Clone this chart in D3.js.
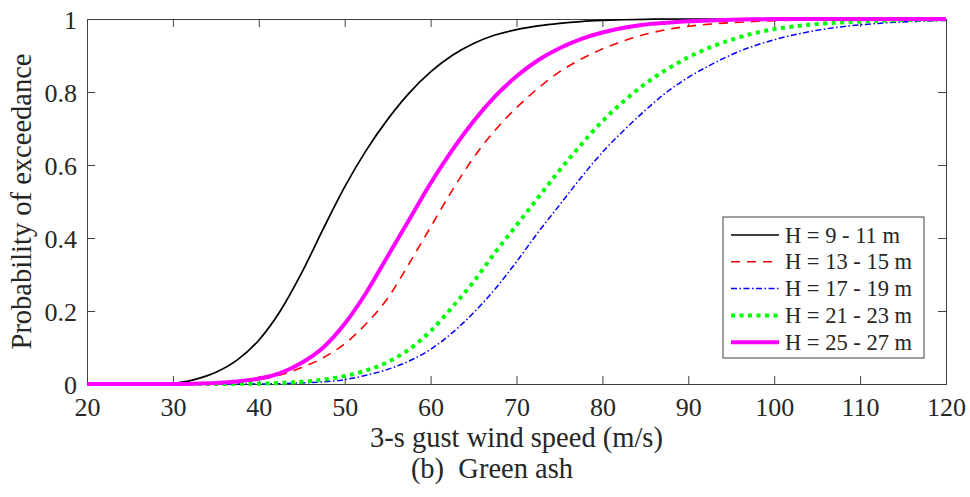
<!DOCTYPE html>
<html>
<head>
<meta charset="utf-8">
<script src="https://cdn.jsdelivr.net/npm/d3@7"></script>
<style>
  html, body { margin: 0; padding: 0; background: #fff; }
  svg text { font-family: "Liberation Serif", "Times New Roman", serif; fill: #262626; }
</style>
</head>
<body>
<svg id="chart" width="970" height="497"></svg>
<script>
// ---- data ----
const windSpeed = [20,25,30,32.5,35,37.5,40,42.5,45,47.5,50,52.5,55,57.5,60,62.5,65,67.5,70,72.5,75,77.5,80,82.5,85,87.5,90,92.5,95,97.5,100,105,110,115,120];
const h9_11  = [0,0,0.002,0.012,0.032,0.066,0.12,0.20,0.305,0.425,0.54,0.64,0.725,0.797,0.855,0.90,0.933,0.956,0.971,0.981,0.988,0.993,0.996,0.998,0.999,1,1,1,1,1,1,1,1,1,1];
const h13_15 = [0,0,0,0.001,0.002,0.005,0.012,0.025,0.045,0.072,0.11,0.165,0.235,0.33,0.43,0.53,0.62,0.695,0.757,0.81,0.855,0.89,0.918,0.94,0.958,0.971,0.98,0.986,0.99,0.993,0.995,0.998,0.999,1,1];
const h17_19 = [0,0,0,0,0,0,0,0.001,0.003,0.006,0.012,0.024,0.04,0.063,0.095,0.14,0.195,0.26,0.335,0.415,0.49,0.565,0.635,0.695,0.75,0.80,0.84,0.873,0.902,0.925,0.943,0.969,0.984,0.992,0.996];
const h21_23 = [0,0,0,0,0,0.0005,0.001,0.003,0.006,0.012,0.022,0.037,0.06,0.095,0.145,0.21,0.28,0.36,0.435,0.51,0.585,0.655,0.72,0.775,0.823,0.862,0.895,0.922,0.943,0.96,0.972,0.986,0.993,0.997,0.999];
const h25_27 = [0,0,0,0.001,0.003,0.007,0.015,0.03,0.058,0.10,0.165,0.25,0.35,0.45,0.55,0.64,0.72,0.788,0.843,0.887,0.92,0.945,0.963,0.976,0.985,0.99,0.994,0.996,0.998,0.999,1,1,1,1,1];
const seriesNames = ["H = 9 - 11 m","H = 13 - 15 m","H = 17 - 19 m","H = 21 - 23 m","H = 25 - 27 m"];
const xTicks = [20,30,40,50,60,70,80,90,100,110,120];
const yTicks = [0,0.2,0.4,0.6,0.8,1];
const xLabel = "3-s gust wind speed (m/s)";
const yLabel = "Probability of exceedance";
const subTitle = "(b)\u00a0 Green ash";

// ---- styles ----
const styles = [
  {color:"#000000", width:1.7, dash:null},
  {color:"#ff0000", width:1.6, dash:"9 7"},
  {color:"#0000ff", width:1.5, dash:"6 2.5 1.5 2.5"},
  {color:"#00ff00", width:4,   dash:"4 4.5"},
  {color:"#ff00ff", width:4,   dash:null}
];
const allSeries = [h9_11, h13_15, h17_19, h21_23, h25_27];

const svg = d3.select("#chart");
const L = 87, R = 946, T = 19, B = 384;
const x = d3.scaleLinear().domain([20,120]).range([L,R]);
const y = d3.scaleLinear().domain([0,1]).range([B,T]);
const axisColor = "#404040";
const tickLen = 8;

// Axes with inward ticks on all sides (box)
const gx = svg.append("g").attr("transform",`translate(0,${B})`)
  .call(d3.axisBottom(x).tickValues(xTicks).tickSize(-tickLen).tickPadding(0).tickFormat(d3.format("d")));
const gxTop = svg.append("g").attr("transform",`translate(0,${T})`)
  .call(d3.axisTop(x).tickValues(xTicks).tickSize(-tickLen).tickFormat(""));
const gy = svg.append("g").attr("transform",`translate(${L},0)`)
  .call(d3.axisLeft(y).tickValues(yTicks).tickSize(-tickLen).tickFormat(d => d === 0 || d === 1 ? d3.format("d")(d) : d3.format(".1f")(d)));
const gyRight = svg.append("g").attr("transform",`translate(${R},0)`)
  .call(d3.axisRight(y).tickValues(yTicks).tickSize(-tickLen).tickFormat(""));

[gx,gxTop,gy,gyRight].forEach(g => {
  g.select(".domain").attr("stroke",axisColor).attr("stroke-width",1);
  g.selectAll(".tick line").attr("stroke",axisColor).attr("stroke-width",1);
});
gx.selectAll(".tick text").attr("font-size",26).attr("dy",null).attr("y",32)
  .style("font-family","Liberation Serif").attr("fill","#262626");
gy.selectAll(".tick text").attr("font-size",26).attr("dy",null).attr("x",-10).attr("y",9)
  .style("font-family","Liberation Serif").attr("fill","#262626");
[gx,gxTop].forEach(g => g.selectAll(".tick line").filter(d => d===20 || d===120).remove());
[gy,gyRight].forEach(g => g.selectAll(".tick line").filter(d => d===0 || d===1).remove());

// Lines
const line = d3.line().x((d,i) => x(windSpeed[i])).y(d => y(d)).curve(d3.curveMonotoneX);
allSeries.forEach((s,k) => {
  const p = svg.append("path").datum(s).attr("d",line)
    .attr("fill","none").attr("stroke",styles[k].color).attr("stroke-width",styles[k].width)
    .attr("stroke-linejoin","round");
  if (styles[k].dash) p.attr("stroke-dasharray",styles[k].dash);
});

// Axis titles
svg.append("text").attr("x",(L+R)/2).attr("y",447).attr("text-anchor","middle")
  .attr("font-size",28.5).text(xLabel);
svg.append("text").attr("transform",`translate(31,${(T+B)/2}) rotate(-90)`).attr("text-anchor","middle")
  .attr("font-size",28.5).text(yLabel);
svg.append("text").attr("x",492).attr("y",478).attr("text-anchor","middle")
  .attr("font-size",28.5).text(subTitle);

// Legend
const lg = svg.append("g");
lg.append("rect").attr("x",723).attr("y",217).attr("width",201).attr("height",141)
  .attr("fill","#fff").attr("stroke",axisColor).attr("stroke-width",1);
seriesNames.forEach((name,k) => {
  const cy = 235 + k*26.8;
  const l = lg.append("line").attr("x1",731).attr("x2",779).attr("y1",cy).attr("y2",cy)
    .attr("stroke",styles[k].color).attr("stroke-width",styles[k].width);
  if (styles[k].dash) l.attr("stroke-dasharray",styles[k].dash);
  lg.append("text").attr("x",785).attr("y",cy+7.5).attr("font-size",22.5).text(name);
});
</script>
</body>
</html>
